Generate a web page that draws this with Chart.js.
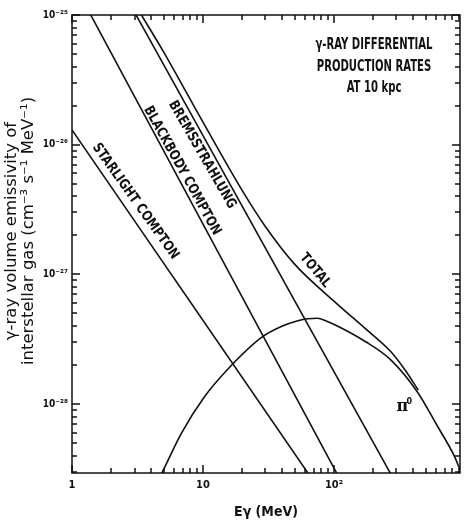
<!DOCTYPE html>
<html>
<head>
<meta charset="utf-8">
<script src="https://cdn.jsdelivr.net/npm/chart.js@4/dist/chart.umd.min.js"></script>
<style>
  html, body { margin: 0; padding: 0; background: #fff; }
  #wrap { width: 465px; height: 525px; }
</style>
</head>
<body>
<div id="wrap"><canvas id="c" width="465" height="525"></canvas></div>
<script>
// Photon energy E (MeV) and volume emissivity q (cm^-3 s^-1 MeV^-1) of each component
const starlightE = [1, 100];
const starlightQ = [1.3e-26, 1.5e-29];

const blackbodyE = [1, 200];
const blackbodyQ = [1.86e-25, 8.7e-30];

const bremsE = [2, 500];
const bremsQ = [2.2e-25, 9.5e-30];

const pionE = [4.25, 4.9, 6.8, 10.2, 15.7, 28, 40, 53, 63, 75, 88, 107, 172, 270, 433, 614, 826, 920, 1000];
const pionQ = [2.3e-29, 3.0e-29, 5.9e-29, 1.13e-28, 1.89e-28, 3.27e-28, 3.98e-28, 4.39e-28, 4.55e-28, 4.59e-28,
               4.35e-28, 3.98e-28, 3.05e-28, 2.2e-28, 1.24e-28, 6.8e-29, 4.0e-29, 3.1e-29, 2.6e-29];

const totalE = [3, 3.39, 5, 10, 20, 30, 50, 107, 172, 270, 350, 440];
const totalQ = [1.23e-25, 1.0e-25, 5.2e-26, 1.49e-26, 4.4e-27, 2.33e-27, 1.2e-27, 5.85e-28, 3.85e-28, 2.55e-28, 1.82e-28, 1.28e-28];

// Axis decades and their labels
const xMajorTicks = [1, 10, 100];
const xTickLabels = ['1', '10', '10²'];
const yMajorTicks = [1e-28, 1e-27, 1e-26, 1e-25];
const yTickLabels = ['10⁻²⁸', '10⁻²⁷', '10⁻²⁶', '10⁻²⁵'];

const xRange = [1, 916];
const yRange = [2.94e-29, 1e-25];

const titleLines = ['γ-RAY DIFFERENTIAL', 'PRODUCTION RATES', 'AT 10 kpc'];
const yTitleLines = ['γ-ray volume emissivity of', 'interstellar gas (cm⁻³ s⁻¹ MeV⁻¹)'];
const xTitle = 'Eγ (MeV)';

// Curve names, placed along their lines (anchor in data units, angle in degrees)
const curveLabels = [
  { text: 'STARLIGHT COMPTON', e: 3.05, q: 3.65e-27, angle: 54.5 },
  { text: 'BLACKBODY COMPTON', e: 6.93, q: 6.3e-27, angle: 61 },
  { text: 'BREMSSTRAHLUNG', e: 9.83, q: 8.37e-27, angle: 60 },
  { text: 'TOTAL', e: 71.8, q: 1.07e-27, angle: 50 }
];
const pionLabel = { e: 339, q: 9.8e-29 };

const NARROW = "'Liberation Sans Narrow', 'DejaVu Sans Condensed', 'Liberation Sans', sans-serif";
const INK = '#111';

function pairs(xs, ys) { return xs.map((x, i) => ({ x, y: ys[i] })); }

// every 1..9 multiple of each decade inside the range
function decadeTicks(lo, hi) {
  const out = [];
  for (let p = Math.floor(Math.log10(lo)); p <= Math.ceil(Math.log10(hi)); p++) {
    for (let m = 1; m <= 9; m++) {
      const v = m * Math.pow(10, p);
      if (v >= lo * 0.999 && v <= hi * 1.001) out.push(v);
    }
  }
  return out;
}
function isDecade(v) {
  const l = Math.log10(v);
  return Math.abs(l - Math.round(l)) < 1e-6;
}
function labelFor(v, majors, labels) {
  for (let i = 0; i < majors.length; i++) {
    if (Math.abs(Math.log10(v) - Math.log10(majors[i])) < 1e-6) return labels[i];
  }
  return '';
}
// text squeezed horizontally, centred on (x, y), optionally rotated
function condensedText(ctx, text, x, y, sx, angle) {
  ctx.save();
  ctx.translate(x, y);
  if (angle) ctx.rotate(angle * Math.PI / 180);
  ctx.scale(sx, 1);
  ctx.fillText(text, 0, 0);
  ctx.restore();
}

const lineStyle = { borderColor: INK, borderWidth: 1.6, pointRadius: 0, fill: false };

const frameAndText = {
  id: 'frameAndText',
  afterDraw(chart) {
    const ctx = chart.ctx;
    const a = chart.chartArea;
    const xs = chart.scales.x, ys = chart.scales.y;
    ctx.save();
    ctx.strokeStyle = INK;
    ctx.fillStyle = INK;

    // frame
    ctx.lineWidth = 1.5;
    ctx.strokeRect(a.left, a.top, a.right - a.left, a.bottom - a.top);

    // inward tick marks on all four sides
    ctx.lineWidth = 1.5;
    ctx.beginPath();
    decadeTicks(xRange[0], xRange[1]).forEach(v => {
      const px = Math.round(xs.getPixelForValue(v));
      const len = isDecade(v) ? 8 : 5;
      ctx.moveTo(px, a.bottom); ctx.lineTo(px, a.bottom - len);
      ctx.moveTo(px, a.top); ctx.lineTo(px, a.top + len);
    });
    decadeTicks(yRange[0], yRange[1]).forEach(v => {
      const py = Math.round(ys.getPixelForValue(v));
      const len = isDecade(v) ? 8 : 5;
      ctx.moveTo(a.left, py); ctx.lineTo(a.left + len, py);
      ctx.moveTo(a.right, py); ctx.lineTo(a.right - len, py);
    });
    ctx.stroke();

    // heading block
    ctx.textAlign = 'center';
    ctx.textBaseline = 'middle';
    ctx.font = 'bold 16px ' + NARROW;
    titleLines.forEach((t, i) => condensedText(ctx, t, 374, 45 + i * 21.5, 0.7));

    // curve names
    ctx.font = 'bold 14px ' + NARROW;
    curveLabels.forEach(l => {
      condensedText(ctx, l.text, xs.getPixelForValue(l.e), ys.getPixelForValue(l.q), 0.9, l.angle);
    });

    // π0 label
    const px = xs.getPixelForValue(pionLabel.e), py = ys.getPixelForValue(pionLabel.q);
    ctx.textAlign = 'left';
    ctx.font = 'bold 16px "DejaVu Serif", serif';
    ctx.fillText('π', px - 7, py + 2);
    ctx.font = 'bold 9px ' + NARROW;
    ctx.fillText('0', px + 3, py - 4);

    // axis titles
    ctx.textAlign = 'center';
    ctx.font = 'bold 14px ' + NARROW;
    ctx.fillText(xTitle, 266, 512);

    ctx.font = '16.5px "DejaVu Sans", sans-serif';
    const cy = 231;
    yTitleLines.forEach((t, i) => {
      ctx.save();
      ctx.translate(12 + i * 16.5, cy);
      ctx.rotate(-Math.PI / 2);
      ctx.fillText(t, 0, 0);
      ctx.restore();
    });
    ctx.restore();
  }
};

new Chart(document.getElementById('c'), {
  type: 'line',
  data: {
    datasets: [
      Object.assign({ label: 'Starlight Compton', data: pairs(starlightE, starlightQ) }, lineStyle),
      Object.assign({ label: 'Blackbody Compton', data: pairs(blackbodyE, blackbodyQ) }, lineStyle),
      Object.assign({ label: 'Bremsstrahlung', data: pairs(bremsE, bremsQ) }, lineStyle),
      Object.assign({ label: 'π0', data: pairs(pionE, pionQ), cubicInterpolationMode: 'monotone' }, lineStyle),
      Object.assign({ label: 'Total', data: pairs(totalE, totalQ), cubicInterpolationMode: 'monotone' }, lineStyle)
    ]
  },
  options: {
    responsive: false,
    animation: false,
    events: [],
    layout: { padding: { top: 15, right: 2, left: 0, bottom: 0 } },
    plugins: { legend: { display: false }, tooltip: { enabled: false } },
    scales: {
      x: {
        type: 'logarithmic',
        position: 'bottom',
        min: xRange[0],
        max: xRange[1],
        grid: { display: false, drawTicks: false },
        border: { display: false },
        afterBuildTicks: s => { s.ticks = decadeTicks(xRange[0], xRange[1]).map(v => ({ value: v })); },
        afterFit: s => { s.height = 52; },
        ticks: {
          autoSkip: false, maxRotation: 0, minRotation: 0, padding: 6,
          color: INK, font: { family: NARROW, size: 11, weight: 'bold' },
          callback: v => labelFor(v, xMajorTicks, xTickLabels)
        }
      },
      y: {
        type: 'logarithmic',
        position: 'left',
        min: yRange[0],
        max: yRange[1],
        grid: { display: false, drawTicks: false },
        border: { display: false },
        afterBuildTicks: s => { s.ticks = decadeTicks(yRange[0], yRange[1]).map(v => ({ value: v })); },
        afterFit: s => { s.width = 72; },
        ticks: {
          autoSkip: false, padding: 4,
          color: INK, font: { family: NARROW, size: 10, weight: 'bold' },
          callback: v => labelFor(v, yMajorTicks, yTickLabels)
        }
      }
    }
  },
  plugins: [frameAndText]
});
</script>
</body>
</html>
